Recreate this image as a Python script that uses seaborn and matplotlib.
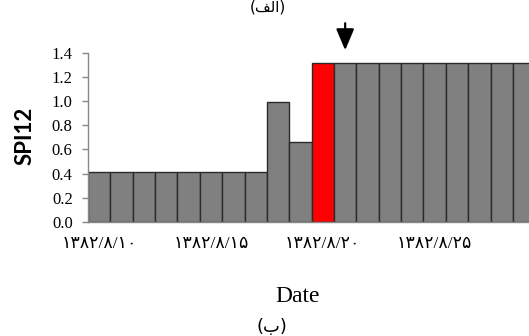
import matplotlib
matplotlib.use("Agg")
import matplotlib.pyplot as plt
import seaborn as sns
import numpy as np

# Data (day of month 8, year 1382)
days = list(range(10, 30))
spi12 = [0.41, 0.41, 0.41, 0.41, 0.41, 0.41, 0.41, 0.41,
         0.99, 0.66,
         1.32, 1.32, 1.32, 1.32, 1.32, 1.32, 1.32, 1.32, 1.32, 1.32]
highlight_day = 20
arrow_day = 21
tick_days = [10, 15, 20, 25]

fa_digits = str.maketrans("0123456789", "۰۱۲۳۴۵۶۷۸۹")


def fa_date(d):
    return f"1382/8/{d}".translate(fa_digits)


labels = [fa_date(d) for d in days]
colors = ["#ff0000" if d == highlight_day else "#808080" for d in days]

sns.set_style("white")
plt.rcParams["font.family"] = ["Liberation Serif", "DejaVu Sans"]
plt.rcParams["text.color"] = "black"
plt.rcParams["xtick.color"] = "black"
plt.rcParams["ytick.color"] = "black"

fig = plt.figure(figsize=(5.29, 3.36), dpi=100)
ax = fig.add_axes([88 / 529, 114.3 / 336, 1 - 88 / 529, (221.7 - 53) / 336])

sns.barplot(x=labels, y=spi12, hue=labels, palette=colors, legend=False,
            width=1.0, edgecolor="#2a2a2a", linewidth=1.0, saturation=1, ax=ax)

ax.set_ylim(0, 1.4)
ax.set_xlim(-0.5, 19.22)
ax.set_yticks(np.arange(0, 1.41, 0.2))
ax.set_yticklabels([f"{v:.1f}" for v in np.arange(0, 1.41, 0.2)], fontsize=12)

pos = [days.index(d) for d in tick_days]
ax.set_xticks(pos)
ax.set_xticklabels([fa_date(d) for d in tick_days], fontsize=12.5)
ax.set_xticks(np.arange(-0.5, 19.5, 1), minor=True)
ax.tick_params(axis="x", which="major", length=0, pad=10, colors="black")
ax.tick_params(axis="x", which="minor", length=4, direction="out", color="#888888", width=1)
ax.tick_params(axis="y", length=4, direction="out", color="#888888", labelcolor="black",
               width=1, pad=7, left=True)
ax.set_xlabel("")
ax.set_ylabel("")

for side in ["top", "right"]:
    ax.spines[side].set_visible(False)
for side in ["left", "bottom"]:
    ax.spines[side].set_color("#888888")
    ax.spines[side].set_linewidth(1)

# arrow marking the day after the highlighted bar
ai = days.index(arrow_day)
ax.annotate("", xy=(ai, 1.40), xytext=(ai, 1.67), annotation_clip=False,
            arrowprops=dict(arrowstyle="-|>,head_width=0.55,head_length=1.3",
                            color="black", lw=1.6))

fig.text(25 / 529, 1 - 136 / 336, "SPI12", rotation=90, ha="center", va="center",
         fontsize=16, fontweight="bold", family=["Lato", "DejaVu Sans"])
fig.text(298 / 529, 1 - 296 / 336, "Date", ha="center", va="center", fontsize=17)
fig.text(272 / 529, 1 - 327 / 336, "(\uFE8F)", ha="center", va="center", fontsize=13,
         family=["DejaVu Sans"])
fig.text(268 / 529, 1 - 7 / 336, "(\uFED2\uFEDF\uFE8D)", ha="center", va="center",
         fontsize=11, family=["DejaVu Sans"])

fig.savefig("out.png", dpi=100)
